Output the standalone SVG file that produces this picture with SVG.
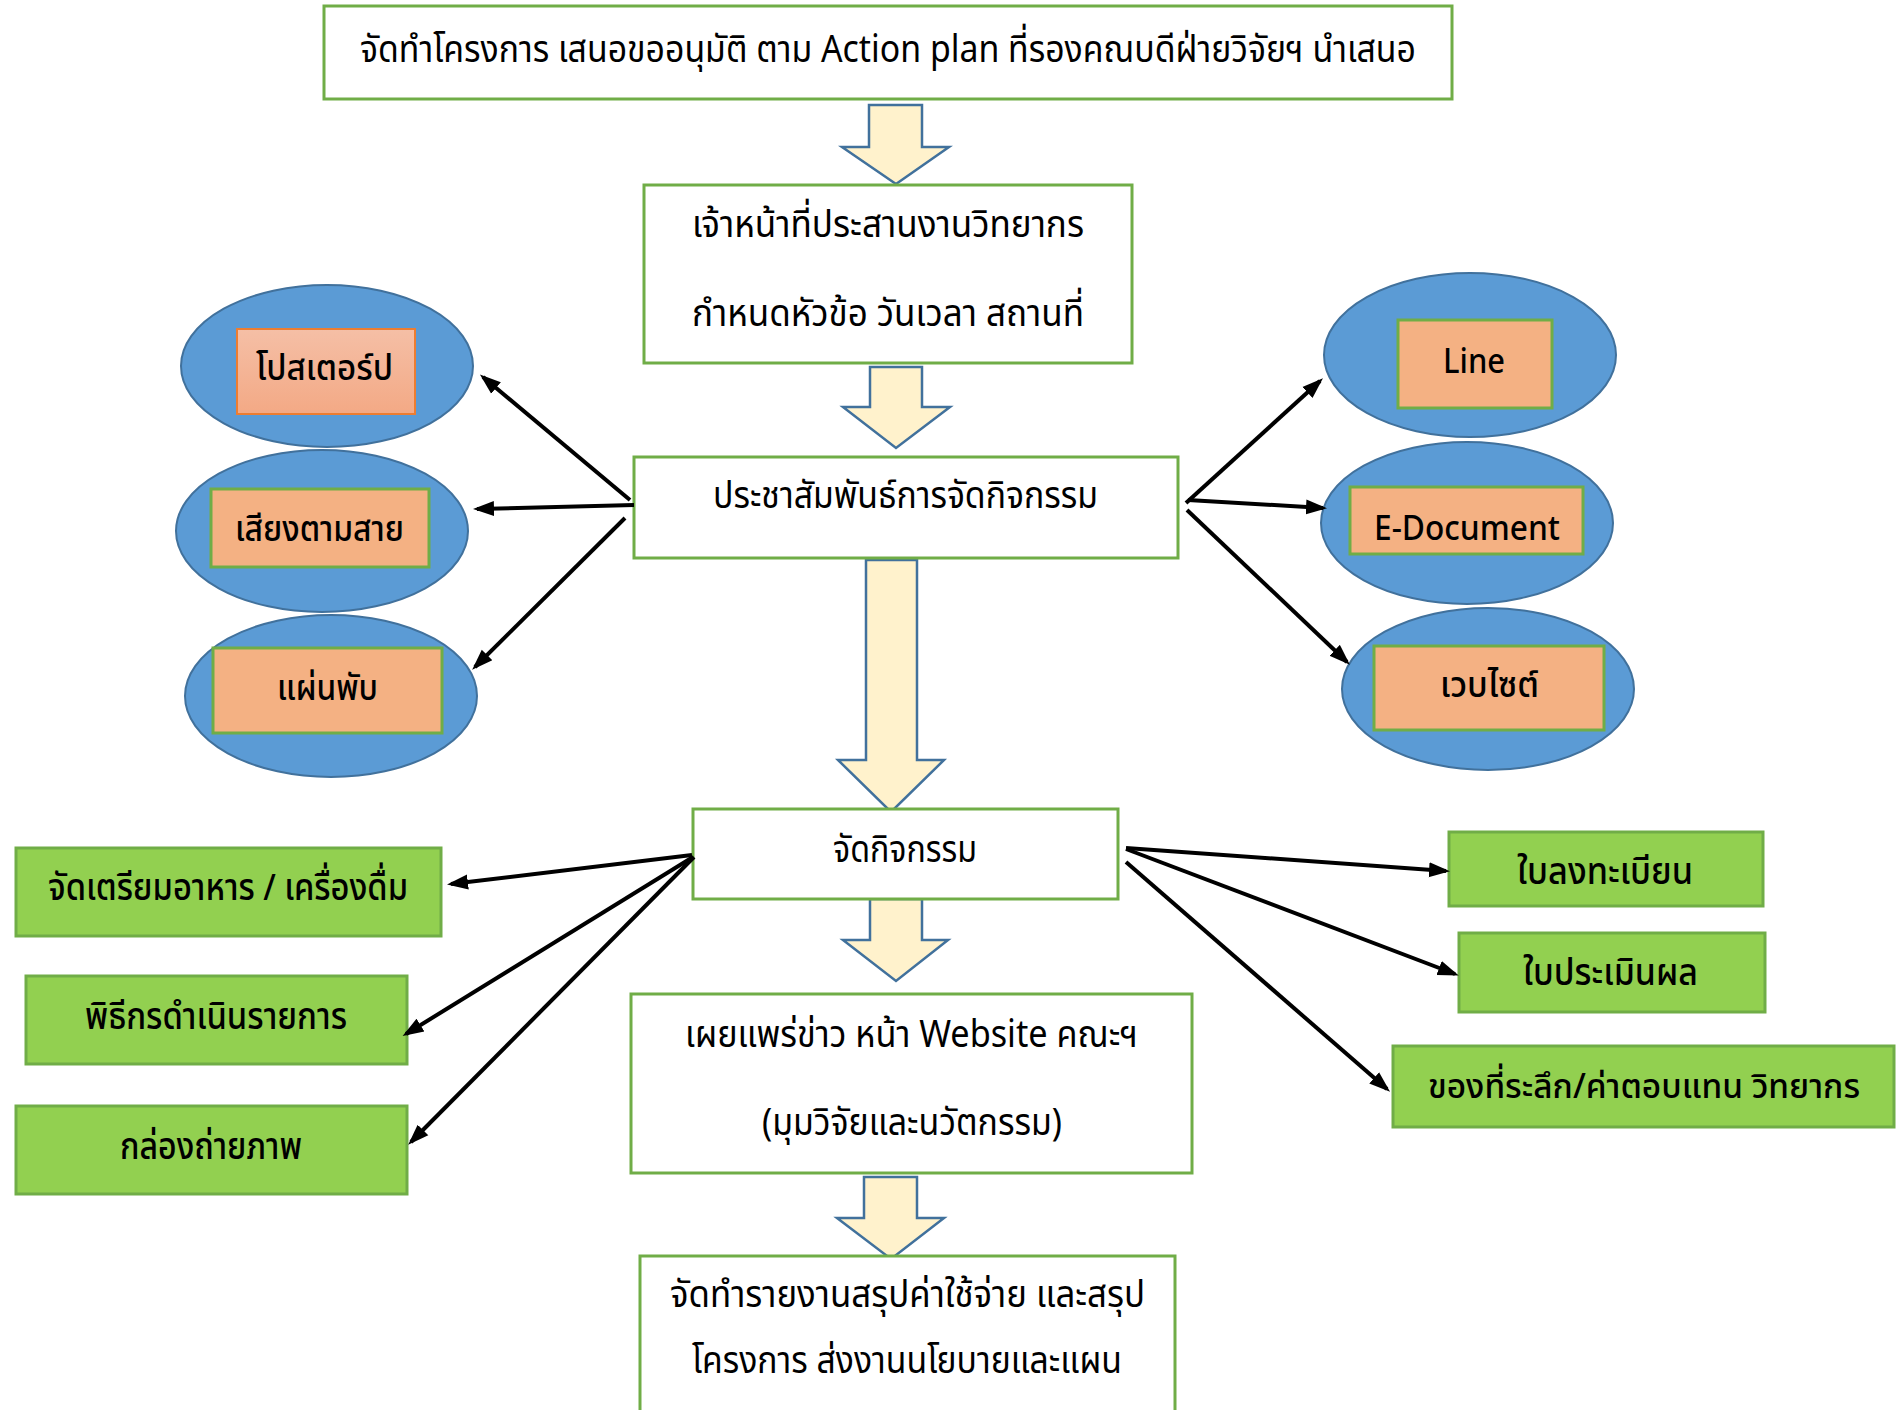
<svg xmlns="http://www.w3.org/2000/svg" width="1902" height="1410" viewBox="0 0 1902 1410">
  <defs>
    <linearGradient id="posterFill" x1="0" y1="0" x2="0" y2="1">
      <stop offset="0" stop-color="#F5BFA6"/>
      <stop offset="1" stop-color="#F3A985"/>
    </linearGradient>
    <marker id="head" markerUnits="userSpaceOnUse" markerWidth="22" markerHeight="18" viewBox="0 0 22 18" refX="17" refY="9" orient="auto">
      <path d="M0,1.5 L21,9 L0,16.5 Z" fill="#000"/>
    </marker>
  </defs>
  <style>
    text { font-family: "Noto Sans Thai", "Noto Sans", Tahoma, sans-serif; fill: #000; }
    .box { fill: #fff; stroke: #70AD47; stroke-width: 3; }
    .gbox { fill: #92D050; stroke: #70AD47; stroke-width: 3; }
    .oval { fill: #5B9BD5; stroke: #41719C; stroke-width: 2; }
    .obox { fill: #F4B183; stroke: #70AD47; stroke-width: 3; }
    .block { fill: #FFF2CC; stroke: #41719C; stroke-width: 2.5; stroke-linejoin: miter; }
    .link { stroke: #000; stroke-width: 4; fill: none; marker-end: url(#head); }
    .t { font-size: 38px; }
    .tg { font-size: 37px; font-weight: 500; }
    .tg.small { font-size: 34px; }
    .to { font-size: 35px; font-weight: 500; }
  </style>

  <rect width="1902" height="1410" fill="#fff"/>

  <!-- flow block arrows -->
  <g id="flow-arrows">
    <polygon class="block" points="869,105 922,105 922,147 949,147 896,184 842,147 869,147"/>
    <polygon class="block" points="870,367 922,367 922,407 950,407 896,448 843,407 870,407"/>
    <polygon class="block" points="866,560 917,560 917,760 944,760 891,812 838,760 866,760"/>
    <polygon class="block" points="870,899 922,899 922,940 948,940 896,981 843,940 870,940"/>
    <polygon class="block" points="864,1177 917,1177 917,1218 944,1218 891,1259 837,1218 864,1218"/>
  </g>

  <!-- main steps -->
  <g id="step-proposal">
    <rect class="box" x="324" y="6" width="1128" height="93"/>
    <text class="t" x="360" y="62" textLength="1056" lengthAdjust="spacingAndGlyphs">จัดทำโครงการ เสนอขออนุมัติ ตาม Action plan ที่รองคณบดีฝ่ายวิจัยฯ นำเสนอ</text>
  </g>
  <g id="step-coordinate">
    <rect class="box" x="644" y="185" width="488" height="178"/>
    <text class="t" x="692" y="237" textLength="392" lengthAdjust="spacingAndGlyphs">เจ้าหน้าที่ประสานงานวิทยากร</text>
    <text class="t" x="692" y="326" textLength="392" lengthAdjust="spacingAndGlyphs">กำหนดหัวข้อ วันเวลา สถานที่</text>
  </g>
  <g id="step-publicize">
    <rect class="box" x="634" y="457" width="544" height="101"/>
    <text class="t" x="713" y="508" textLength="385" lengthAdjust="spacingAndGlyphs">ประชาสัมพันธ์การจัดกิจกรรม</text>
  </g>
  <g id="step-event">
    <rect class="box" x="693" y="809" width="425" height="90"/>
    <text class="t" x="833" y="862" textLength="144" lengthAdjust="spacingAndGlyphs">จัดกิจกรรม</text>
  </g>
  <g id="step-news">
    <rect class="box" x="631" y="994" width="561" height="179"/>
    <text class="t" x="685" y="1047" textLength="453" lengthAdjust="spacingAndGlyphs">เผยแพร่ข่าว หน้า Website คณะฯ</text>
    <text class="t" x="762" y="1135" textLength="300" lengthAdjust="spacingAndGlyphs">(มุมวิจัยและนวัตกรรม)</text>
  </g>
  <g id="step-report">
    <rect class="box" x="640" y="1256" width="535" height="170"/>
    <text class="t" x="670" y="1307" textLength="475" lengthAdjust="spacingAndGlyphs">จัดทำรายงานสรุปค่าใช้จ่าย และสรุป</text>
    <text class="t" x="692" y="1373" textLength="430" lengthAdjust="spacingAndGlyphs">โครงการ ส่งงานนโยบายและแผน</text>
  </g>

  <!-- publicity channels, left -->
  <g id="ch-poster">
    <ellipse class="oval" cx="327" cy="366" rx="146" ry="81"/>
    <rect x="237" y="329" width="178" height="85" fill="url(#posterFill)" stroke="#ED7D31" stroke-width="2"/>
    <text class="to" x="256" y="380" textLength="137" lengthAdjust="spacingAndGlyphs">โปสเตอร์ป</text>
  </g>
  <g id="ch-audio">
    <ellipse class="oval" cx="322" cy="531" rx="146" ry="81"/>
    <rect class="obox" x="211" y="489" width="218" height="78"/>
    <text class="to" x="235" y="541" textLength="169" lengthAdjust="spacingAndGlyphs">เสียงตามสาย</text>
  </g>
  <g id="ch-leaflet">
    <ellipse class="oval" cx="331" cy="696" rx="146" ry="81"/>
    <rect class="obox" x="213" y="648" width="229" height="85"/>
    <text class="to" x="277" y="700" textLength="101" lengthAdjust="spacingAndGlyphs">แผ่นพับ</text>
  </g>

  <!-- publicity channels, right -->
  <g id="ch-line">
    <ellipse class="oval" cx="1470" cy="355" rx="146" ry="82"/>
    <rect class="obox" x="1398" y="320" width="154" height="88"/>
    <text class="to" x="1443" y="373" textLength="62" lengthAdjust="spacingAndGlyphs">Line</text>
  </g>
  <g id="ch-edoc">
    <ellipse class="oval" cx="1467" cy="523" rx="146" ry="81"/>
    <rect class="obox" x="1350" y="487" width="233" height="67"/>
    <text class="to" x="1374" y="540" textLength="186" lengthAdjust="spacingAndGlyphs">E-Document</text>
  </g>
  <g id="ch-web">
    <ellipse class="oval" cx="1488" cy="689" rx="146" ry="81"/>
    <rect class="obox" x="1374" y="646" width="230" height="84"/>
    <text class="to" x="1440" y="697" textLength="99" lengthAdjust="spacingAndGlyphs">เวบไซต์</text>
  </g>

  <!-- event tasks, left -->
  <g id="task-food">
    <rect class="gbox" x="16" y="848" width="425" height="88"/>
    <text class="tg" x="48" y="900" textLength="360" lengthAdjust="spacingAndGlyphs">จัดเตรียมอาหาร / เครื่องดื่ม</text>
  </g>
  <g id="task-mc">
    <rect class="gbox" x="26" y="976" width="381" height="88"/>
    <text class="tg" x="85" y="1029" textLength="262" lengthAdjust="spacingAndGlyphs">พิธีกรดำเนินรายการ</text>
  </g>
  <g id="task-camera">
    <rect class="gbox" x="16" y="1106" width="391" height="88"/>
    <text class="tg" x="120" y="1159" textLength="182" lengthAdjust="spacingAndGlyphs">กล่องถ่ายภาพ</text>
  </g>

  <!-- event tasks, right -->
  <g id="task-register">
    <rect class="gbox" x="1449" y="832" width="314" height="74"/>
    <text class="tg" x="1517" y="884" textLength="176" lengthAdjust="spacingAndGlyphs">ใบลงทะเบียน</text>
  </g>
  <g id="task-evaluate">
    <rect class="gbox" x="1459" y="933" width="306" height="79"/>
    <text class="tg" x="1523" y="985" textLength="175" lengthAdjust="spacingAndGlyphs">ใบประเมินผล</text>
  </g>
  <g id="task-gift">
    <rect class="gbox" x="1393" y="1046" width="501" height="81"/>
    <text class="tg small" x="1428" y="1098" textLength="432" lengthAdjust="spacingAndGlyphs">ของที่ระลึก/ค่าตอบแทน วิทยากร</text>
  </g>

  <!-- connectors -->
  <g id="connectors">
    <line class="link" x1="630" y1="500" x2="483" y2="377"/>
    <line class="link" x1="634" y1="505" x2="477" y2="509"/>
    <line class="link" x1="625" y1="518" x2="475" y2="667"/>
    <line class="link" x1="1186" y1="503" x2="1320" y2="381"/>
    <line class="link" x1="1188" y1="500" x2="1323" y2="508"/>
    <line class="link" x1="1187" y1="510" x2="1347" y2="662"/>
    <line class="link" x1="692" y1="855" x2="451" y2="884"/>
    <line class="link" x1="693" y1="857" x2="406" y2="1034"/>
    <line class="link" x1="694" y1="857" x2="411" y2="1142"/>
    <line class="link" x1="1126" y1="848" x2="1446" y2="871"/>
    <line class="link" x1="1126" y1="849" x2="1455" y2="974"/>
    <line class="link" x1="1126" y1="862" x2="1387" y2="1089"/>
  </g>
</svg>
